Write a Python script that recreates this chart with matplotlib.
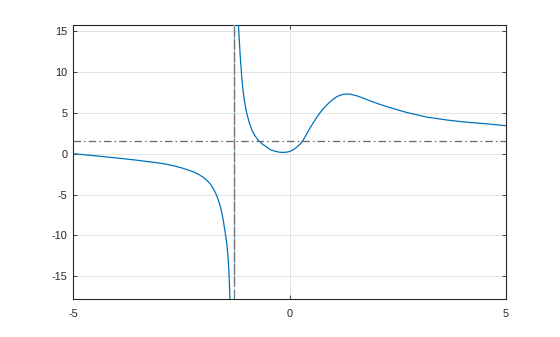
import matplotlib
matplotlib.use("Agg")
import matplotlib.pyplot as plt

# Left branch of the curve
left_x = [-5.0, -4.5, -4.0, -3.6, -3.22, -3.0, -2.84, -2.65, -2.45, -2.22, -2.1, -1.99,
          -1.91, -1.836, -1.78, -1.72, -1.68, -1.644, -1.60, -1.566, -1.53, -1.49, -1.45,
          -1.42, -1.40, -1.385, -1.37]
left_y = [0.0, -0.25, -0.52, -0.75, -1.0, -1.15, -1.29, -1.51, -1.8, -2.22, -2.52, -2.9,
          -3.25, -3.66, -4.1, -4.69, -5.15, -5.7, -6.4, -7.14, -8.16, -9.5, -10.9,
          -12.6, -14.4, -16.3, -19.0]

# Right branch of the curve
right_x = [-1.19, -1.18, -1.143, -1.104, -1.067, -1.03, -0.99, -0.93, -0.873, -0.80, -0.72,
           -0.62, -0.527, -0.45, -0.335, -0.22, -0.12, -0.03, 0.05, 0.1, 0.166, 0.25, 0.32,
           0.4, 0.47, 0.55, 0.63, 0.7, 0.78, 0.86, 0.935, 1.0, 1.09, 1.17, 1.24, 1.32, 1.40,
           1.55, 1.7, 1.86, 2.05, 2.24, 2.5, 2.71, 3.0, 3.17, 3.4, 3.63, 4.0, 4.3, 4.55,
           4.8, 5.0]
right_y = [17.0, 15.7, 12.3, 9.4, 7.4, 6.1, 5.0, 3.8, 2.95, 2.2, 1.62,
           1.15, 0.82, 0.5, 0.3, 0.17, 0.16, 0.22, 0.38, 0.52, 0.8, 1.2, 1.7,
           2.45, 3.1, 3.8, 4.45, 4.98, 5.5, 5.95, 6.33, 6.62, 6.97, 7.15, 7.26, 7.3, 7.28,
           7.08, 6.8, 6.46, 6.1, 5.77, 5.35, 5.04, 4.68, 4.47, 4.3, 4.12, 3.9, 3.76, 3.65,
           3.52, 3.42]

# Jump segment across the pole
jump_x = [-1.289, -1.289]
jump_y = [-15.8, 17.0]

pole_x = -1.289
h_asym = 1.5

x_ticks = [-5, 0, 5]
y_ticks = [-15, -10, -5, 0, 5, 10, 15]
x_lim = (-5, 5)
y_lim = (-17.8, 15.7)

plt.rcParams['font.family'] = ['Liberation Sans', 'DejaVu Sans']

fig = plt.figure(figsize=(5.6, 3.37), dpi=100)
ax = fig.add_axes([0.1304, 0.1119, 0.7732, 0.8131])

blue = '#0072BD'
ax.plot(jump_x, jump_y, color='#80b8de', lw=1.0, zorder=3)
ax.plot(left_x, left_y, color=blue, lw=0.9, zorder=4)
ax.plot(right_x, right_y, color=blue, lw=0.9, zorder=4)
ax.axvline(pole_x, color='#777777', lw=0.9, ls=(0, (8, 2)), zorder=5)
ax.axhline(h_asym, color='#666666', lw=0.9, ls=(0, (6, 2.5, 1.2, 2.5)), zorder=5)

ax.set_xlim(*x_lim)
ax.set_ylim(*y_lim)
ax.set_xticks(x_ticks)
ax.set_yticks(y_ticks)
ax.set_xticklabels([str(v) for v in x_ticks])
ax.set_yticklabels([str(v) for v in y_ticks])

ax.grid(True, color='#dfdfdf', lw=0.6, zorder=0)
ax.set_axisbelow(True)
ax.tick_params(direction='in', length=3, width=0.6, color='#262626',
               labelsize=7.8, labelcolor='#262626', top=True, right=True)
ax.tick_params(axis='x', pad=7)
ax.tick_params(axis='y', pad=4)
for s in ax.spines.values():
    s.set_color('#262626')
    s.set_linewidth(0.8)

fig.savefig('out.png', dpi=100)
